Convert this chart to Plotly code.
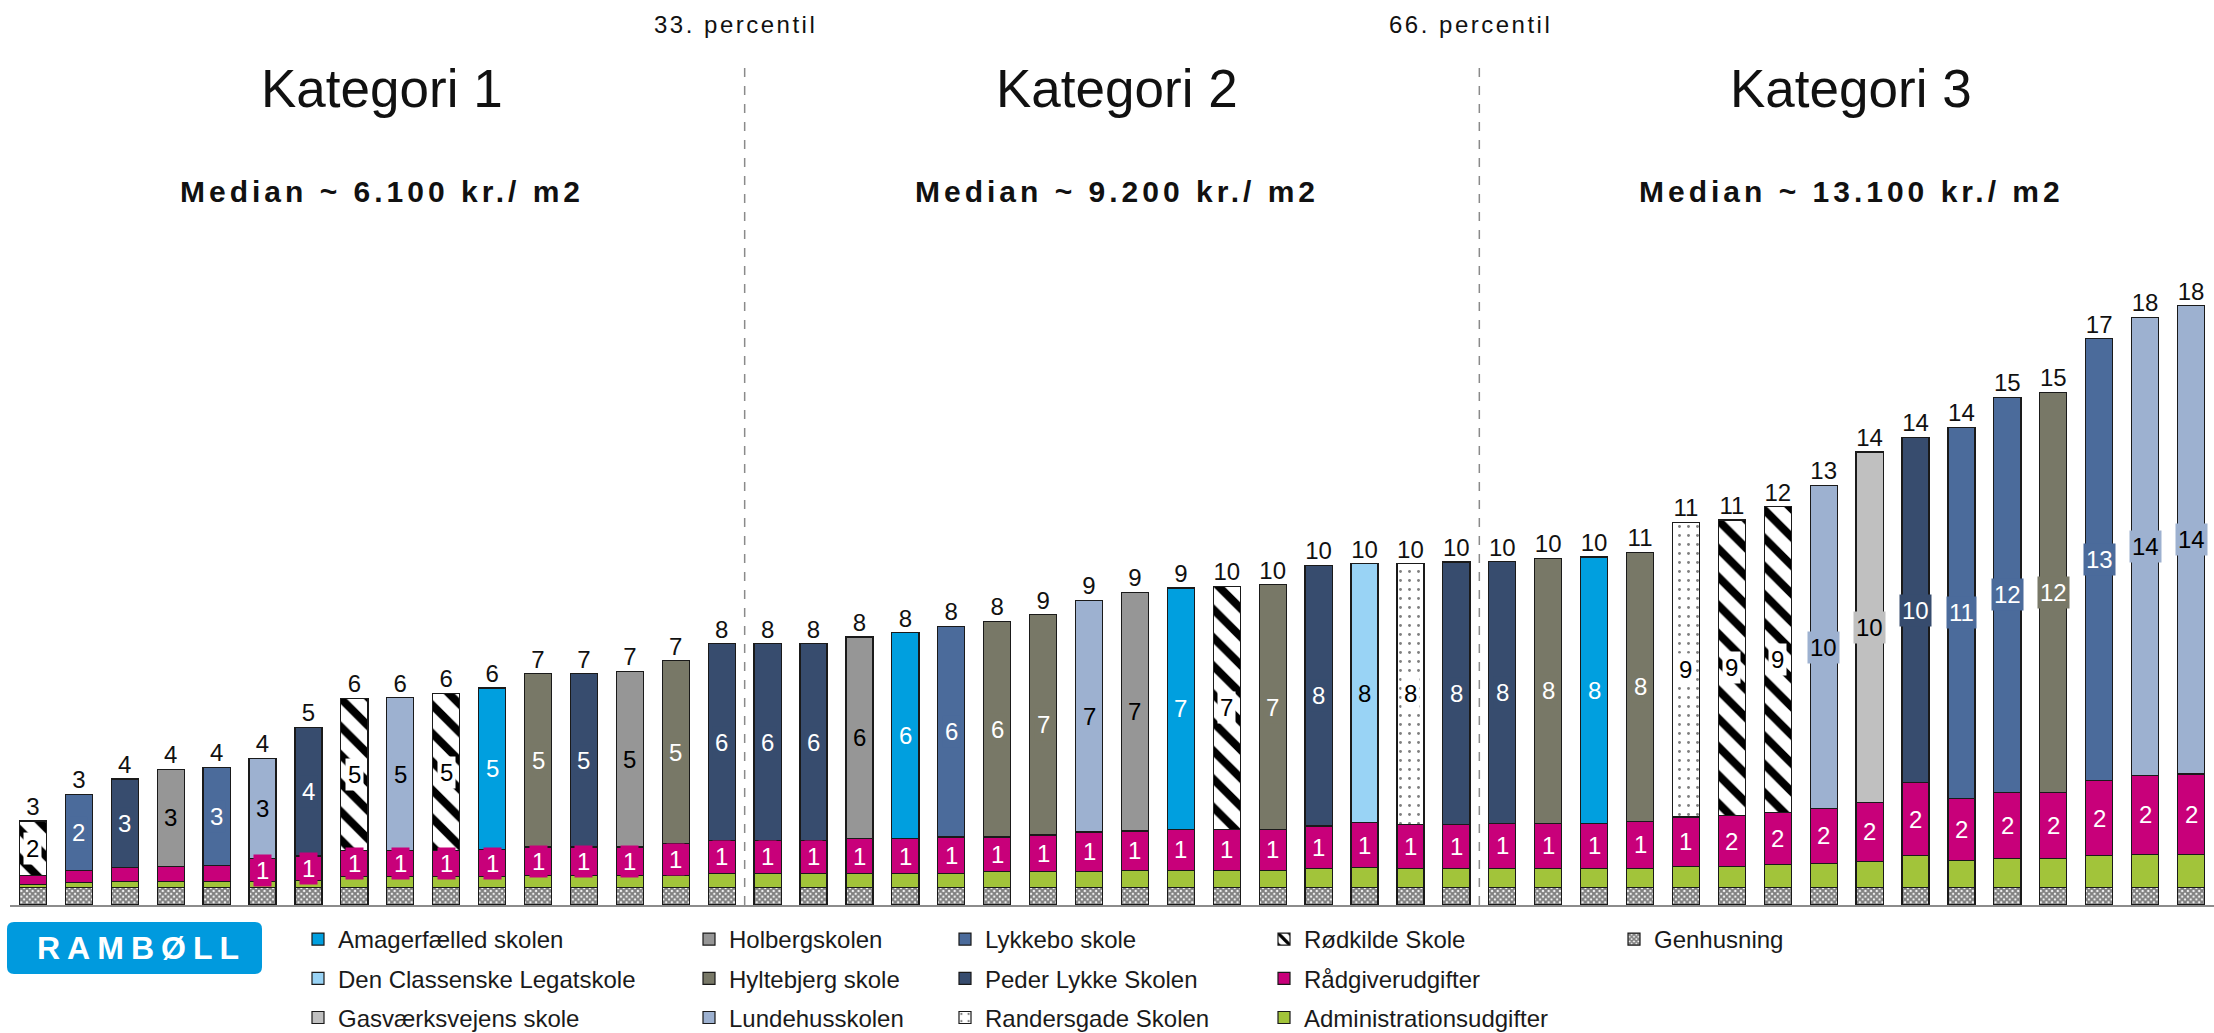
import plotly.graph_objects as go

# ---------------- data ----------------
bar_ids = list(range(48))
category_names = ["Kategori 1", "Kategori 2", "Kategori 3"]
category_counts = [16, 16, 16]
category_medians = ["Median ~ 6.100 kr./ m2", "Median ~ 9.200 kr./ m2", "Median ~ 13.100 kr./ m2"]
percentile_labels = ["33. percentil", "66. percentil"]

schools = [
    "Rødkilde Skole", "Lykkebo skole", "Peder Lykke Skolen", "Holbergskolen", "Lykkebo skole",
    "Lundehusskolen", "Peder Lykke Skolen", "Rødkilde Skole", "Lundehusskolen", "Rødkilde Skole",
    "Amagerfælled skolen", "Hyltebjerg skole", "Peder Lykke Skolen", "Holbergskolen", "Hyltebjerg skole",
    "Peder Lykke Skolen",
    "Peder Lykke Skolen", "Peder Lykke Skolen", "Holbergskolen", "Amagerfælled skolen", "Lykkebo skole",
    "Hyltebjerg skole", "Hyltebjerg skole", "Lundehusskolen", "Holbergskolen", "Amagerfælled skolen",
    "Rødkilde Skole", "Hyltebjerg skole", "Peder Lykke Skolen", "Den Classenske Legatskole",
    "Randersgade Skolen", "Peder Lykke Skolen",
    "Peder Lykke Skolen", "Hyltebjerg skole", "Amagerfælled skolen", "Hyltebjerg skole",
    "Randersgade Skolen", "Rødkilde Skole", "Rødkilde Skole", "Lundehusskolen", "Gasværksvejens skole",
    "Peder Lykke Skolen", "Lykkebo skole", "Lykkebo skole", "Hyltebjerg skole", "Lykkebo skole",
    "Lundehusskolen", "Lundehusskolen",
]

genhusning = [0.52, 0.52, 0.52, 0.52, 0.52, 0.52, 0.52, 0.52, 0.52, 0.52, 0.52, 0.52, 0.52, 0.52, 0.52, 0.52,
              0.52, 0.52, 0.52, 0.52, 0.52, 0.52, 0.52, 0.52, 0.52, 0.52, 0.52, 0.52, 0.52, 0.52, 0.52, 0.52,
              0.52, 0.52, 0.52, 0.52, 0.52, 0.52, 0.52, 0.52, 0.52, 0.52, 0.52, 0.52, 0.52, 0.52, 0.52, 0.52]
admin = [0.10, 0.14, 0.19, 0.19, 0.19, 0.17, 0.22, 0.32, 0.32, 0.32, 0.32, 0.37, 0.37, 0.37, 0.37, 0.42,
         0.42, 0.42, 0.42, 0.42, 0.42, 0.47, 0.47, 0.47, 0.52, 0.52, 0.52, 0.52, 0.57, 0.60, 0.57, 0.57,
         0.58, 0.58, 0.58, 0.58, 0.64, 0.62, 0.70, 0.73, 0.78, 0.95, 0.81, 0.87, 0.87, 0.95, 0.99, 0.99]
raadgiver = [0.27, 0.38, 0.41, 0.45, 0.47, 0.70, 0.72, 0.78, 0.78, 0.78, 0.82, 0.84, 0.84, 0.84, 0.95, 0.99,
             0.99, 0.99, 1.04, 1.04, 1.09, 1.04, 1.10, 1.19, 1.17, 1.22, 1.22, 1.22, 1.27, 1.34, 1.32, 1.32,
             1.33, 1.33, 1.33, 1.39, 1.47, 1.52, 1.55, 1.62, 1.76, 2.18, 1.86, 1.98, 1.98, 2.24, 2.36, 2.40]
school_cost = [1.62, 2.26, 2.64, 2.89, 2.93, 2.99, 3.84, 4.55, 4.57, 4.70, 4.82, 5.17, 5.17, 5.25, 5.45, 5.87,
               5.87, 5.87, 6.02, 6.15, 6.29, 6.44, 6.58, 6.92, 7.12, 7.20, 7.25, 7.30, 7.78, 7.73, 7.78, 7.83,
               7.82, 7.92, 7.96, 8.04, 8.79, 8.83, 9.12, 9.66, 10.46, 10.31, 11.07, 11.79, 11.93, 13.20, 13.67, 13.98]

# ---------------- styles ----------------
FONT = "Liberation Sans, Arial, Helvetica, sans-serif"
TXT = "#111111"
OUTLINE = dict(color="#1a1a1a", width=1.2)

school_style = {
    "Amagerfælled skolen": dict(color="#009FDF", text="white", pattern=None),
    "Den Classenske Legatskole": dict(color="#99D3F5", text="black", pattern=None),
    "Gasværksvejens skole": dict(color="#C0C0C0", text="black", pattern=None),
    "Holbergskolen": dict(color="#969696", text="black", pattern=None),
    "Hyltebjerg skole": dict(color="#787867", text="white", pattern=None),
    "Lundehusskolen": dict(color="#9DB1D0", text="black", pattern=None),
    "Lykkebo skole": dict(color="#4B6B9B", text="white", pattern=None),
    "Peder Lykke Skolen": dict(color="#374C6E", text="white", pattern=None),
    "Randersgade Skolen": dict(color="white", text="black",
                               pattern=dict(shape=".", fgcolor="black", bgcolor="white", size=9, solidity=0.08)),
    "Rødkilde Skole": dict(color="white", text="black",
                           pattern=dict(shape="\\", fgcolor="black", bgcolor="white", size=20, solidity=0.4,
                                        fgopacity=1)),
}
legend_slot = {
    "Amagerfælled skolen": ("legend", 1), "Den Classenske Legatskole": ("legend", 2),
    "Gasværksvejens skole": ("legend", 3),
    "Holbergskolen": ("legend2", 1), "Hyltebjerg skole": ("legend2", 2), "Lundehusskolen": ("legend2", 3),
    "Lykkebo skole": ("legend3", 1), "Peder Lykke Skolen": ("legend3", 2), "Randersgade Skolen": ("legend3", 3),
    "Rødkilde Skole": ("legend4", 1), "Rådgiverudgifter": ("legend4", 2), "Administrationsudgifter": ("legend4", 3),
    "Genhusning": ("legend5", 1),
}

def rnd(v):
    return int(v + 0.5)

fig = go.Figure()

BAR_W = 0.59

lg, rk = legend_slot["Genhusning"]
fig.add_trace(go.Bar(
    x=bar_ids, y=genhusning, name="Genhusning", width=BAR_W,
    marker=dict(color="white", line=OUTLINE,
                pattern=dict(shape="x", fgcolor="black", bgcolor="white", size=4, solidity=0.75)),
    legend=lg, legendrank=rk, legendgroup="Genhusning", hoverinfo="skip"))

lg, rk = legend_slot["Administrationsudgifter"]
fig.add_trace(go.Bar(
    x=bar_ids, y=admin, name="Administrationsudgifter", width=BAR_W,
    marker=dict(color="#A2C43A", line=OUTLINE),
    legend=lg, legendrank=rk, legendgroup="Administrationsudgifter", hoverinfo="skip"))

lg, rk = legend_slot["Rådgiverudgifter"]
fig.add_trace(go.Bar(
    x=bar_ids, y=raadgiver, name="Rådgiverudgifter", width=BAR_W,
    marker=dict(color="#C8007A", line=OUTLINE),
    legend=lg, legendrank=rk, legendgroup="Rådgiverudgifter", hoverinfo="skip"))

for sname in sorted(school_style.keys()):
    st = school_style[sname]
    xs = [i for i in bar_ids if schools[i] == sname]
    ys = [school_cost[i] for i in xs]
    mk = dict(color=st["color"], line=OUTLINE)
    if st["pattern"] is not None:
        mk["pattern"] = st["pattern"]
    lg, rk = legend_slot[sname]
    fig.add_trace(go.Bar(x=xs, y=ys, name=sname, width=BAR_W, marker=mk,
                         legend=lg, legendrank=rk, legendgroup=sname, hoverinfo="skip"))

totals = [genhusning[i] + admin[i] + raadgiver[i] + school_cost[i] for i in bar_ids]
fig.add_trace(go.Scatter(
    x=bar_ids, y=totals, mode="text", text=[str(rnd(t)) for t in totals],
    textposition="top center", textfont=dict(family=FONT, size=24, color=TXT),
    showlegend=False, cliponaxis=False, hoverinfo="skip"))

annotations = []
for i in bar_ids:
    st = school_style[schools[i]]
    base = genhusning[i] + admin[i] + raadgiver[i]
    annotations.append(dict(
        x=i, y=base + school_cost[i] / 2, xref="x", yref="y", text=str(rnd(school_cost[i])),
        xanchor="center", yanchor="middle",
        showarrow=False, font=dict(family=FONT, size=24, color=st["text"]),
        bgcolor=st["color"], borderpad=2))
    if rnd(raadgiver[i]) >= 1:
        annotations.append(dict(
            x=i, y=genhusning[i] + admin[i] + raadgiver[i] / 2, xref="x", yref="y",
            text=str(rnd(raadgiver[i])), showarrow=False, xanchor="center", yanchor="middle",
            font=dict(family=FONT, size=24, color="white"), bgcolor="#C8007A", borderpad=2))

# ---------------- layout geometry ----------------
W, H = 2214, 1033
ML, MR, MT, MB = 10, 0, 0, 128
PW, PH = W - ML - MR, H - MT - MB
PX_PER_UNIT = 33.5
YMAX = PH / PX_PER_UNIT

def px_to_paper_x(px):
    return (px - ML) / PW

def px_to_paper_y(py):
    return (H - MB - py) / PH

def spaced(s, px):
    return f'<span style="letter-spacing:{px}px">{s}</span>'

shapes = []
start = 0
for k, (cname, cnt, med) in enumerate(zip(category_names, category_counts, category_medians)):
    center = start + (cnt - 1) / 2 + 0.1
    annotations.append(dict(x=center, y=px_to_paper_y(89), xref="x", yref="paper", text=cname,
                            xanchor="center", yanchor="middle",
                            showarrow=False, font=dict(family=FONT, size=53, color=TXT)))
    annotations.append(dict(x=center, y=px_to_paper_y(191), xref="x", yref="paper",
                            text="<b>" + spaced(med, 4) + "</b>", xanchor="center", yanchor="middle",
                            showarrow=False, font=dict(family=FONT, size=30, color=TXT)))
    start += cnt
    if k < len(category_names) - 1:
        bx = start - 0.5
        shapes.append(dict(type="line", xref="x", yref="paper", x0=bx, x1=bx,
                           y0=0, y1=px_to_paper_y(66),
                           line=dict(color="#8a8a8a", width=1.5, dash="dash")))
        annotations.append(dict(x=bx - 0.2, y=px_to_paper_y(24), xref="x", yref="paper",
                                text=spaced(percentile_labels[k], 2.5), showarrow=False,
                                xanchor="center", yanchor="middle",
                                font=dict(family=FONT, size=24, color=TXT)))

# Ramboll logo
lx0, lx1, ly0, ly1, r = 7, 262, 922, 974, 7
X = px_to_paper_x
Y = px_to_paper_y
path = (f"M {X(lx0 + r)} {Y(ly0)} L {X(lx1 - r)} {Y(ly0)} Q {X(lx1)} {Y(ly0)} {X(lx1)} {Y(ly0 + r)} "
        f"L {X(lx1)} {Y(ly1 - r)} Q {X(lx1)} {Y(ly1)} {X(lx1 - r)} {Y(ly1)} "
        f"L {X(lx0 + r)} {Y(ly1)} Q {X(lx0)} {Y(ly1)} {X(lx0)} {Y(ly1 - r)} "
        f"L {X(lx0)} {Y(ly0 + r)} Q {X(lx0)} {Y(ly0)} {X(lx0 + r)} {Y(ly0)} Z")
shapes.append(dict(type="path", xref="paper", yref="paper", path=path,
                   fillcolor="#009ADE", line=dict(width=0)))
annotations.append(dict(x=X(141), y=Y(948), xref="paper", yref="paper",
                        text="<b>" + spaced("RAMBØLL", 7) + "</b>", showarrow=False,
                        xanchor="center", yanchor="middle",
                        font=dict(family=FONT, size=32, color="white")))

legend_font = dict(family=FONT, size=24, color="#1a1a1a")
legend_left_px = [298, 689, 945, 1264, 1614]
legend_common = dict(orientation="v", yanchor="top", xanchor="left", bgcolor="rgba(0,0,0,0)",
                     borderwidth=0, font=legend_font, traceorder="grouped", tracegroupgap=5)
legend_layout = {}
for j, lpx in enumerate(legend_left_px):
    key = "legend" if j == 0 else f"legend{j + 1}"
    legend_layout[key] = dict(x=px_to_paper_x(lpx), y=px_to_paper_y(917), **legend_common)

fig.update_layout(
    width=W, height=H,
    margin=dict(l=ML, r=MR, t=MT, b=MB, autoexpand=False),
    barmode="stack",
    plot_bgcolor="white", paper_bgcolor="white",
    font=dict(family=FONT, color=TXT),
    xaxis=dict(range=[-0.5, 47.5], showticklabels=False, ticks="", showgrid=False, zeroline=False,
               showline=True, linecolor="#8c8c8c", linewidth=2, fixedrange=True),
    yaxis=dict(range=[0, YMAX], visible=False, showgrid=False, zeroline=False, fixedrange=True),
    annotations=annotations,
    shapes=shapes,
    **legend_layout,
)

fig.write_html("out.html")
